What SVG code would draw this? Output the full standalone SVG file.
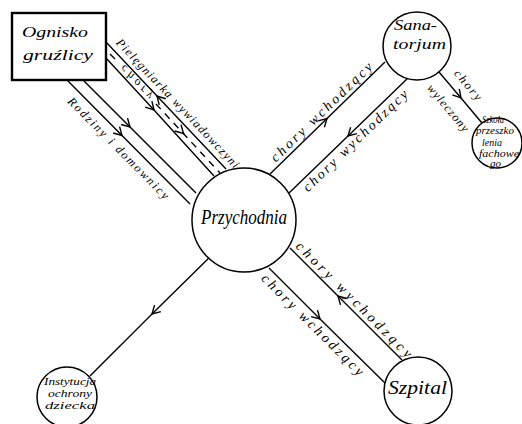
<svg xmlns="http://www.w3.org/2000/svg" width="522" height="424" viewBox="0 0 522 424">
<style>
.bg{fill:#fff}
.ln{fill:none;stroke:#000;stroke-width:1.4;marker-mid:url(#a)}
.pl{fill:none;stroke:#000;stroke-width:1.4}
.ds{fill:none;stroke:#000;stroke-width:1.4;stroke-dasharray:7 6}
.nd{fill:#fff;stroke:#000;stroke-width:1.5}
.bx{fill:#fff;stroke:#000;stroke-width:2.4}
text{font-family:"Liberation Serif","DejaVu Serif",serif;font-style:italic;fill:#000}
.lb{font-size:14px}
.sm{font-size:12px}
</style>
<defs>
<marker id="a" viewBox="-10 -6 12 12" refX="0" refY="0" markerWidth="12" markerHeight="12" markerUnits="userSpaceOnUse" orient="auto">
<path d="M-8,-4.5 L0,0 L-8,4.5" fill="none" stroke="#000" stroke-width="1.4"/>
</marker>
</defs>
<rect class="bg" x="0" y="0" width="522" height="424"/>
<g id="connectors">
<polyline class="ln" points="226,169 157,96 106,42"/>
<line class="pl" x1="110" y1="54" x2="115" y2="59"/>
<line class="ds" x1="156" y1="104" x2="220" y2="173"/>
<polyline class="ln" points="183,133 183.5,133.5 184,134"/>
<polyline class="ln" points="106,58 154,110 214,176"/>
<polyline class="ln" points="83,80 130,127 196,193"/>
<polyline class="ln" points="67,80 122,135.5 190,204"/>
<polyline class="ln" points="270,174 327,118.5 385,62"/>
<polyline class="ln" points="408,78 348,136 289,193"/>
<polyline class="ln" points="439,72 461,98 482,123"/>
<polyline class="ln" points="215,252 152,314 90,376"/>
<polyline class="ln" points="402,360 338,296 290,248"/>
<polyline class="ln" points="269,268 320,319 385,383"/>
<text class="sm" transform="translate(115.4,43.2) rotate(46.6)" textLength="173" lengthAdjust="spacing">Pielęgniarka wywiadowczyni</text>
<text class="sm" transform="translate(124.8,64.2) rotate(47.2) scale(1,-1)" textLength="42" lengthAdjust="spacing">chory</text>
<text class="sm" transform="translate(67,102) rotate(45.2)" textLength="138" lengthAdjust="spacing">Rodziny i domownicy</text>
<text class="lb" transform="translate(275.8,162.7) rotate(-44.2)" textLength="136" lengthAdjust="spacing">chory wchodzący</text>
<text class="lb" transform="translate(308,192.6) rotate(-44)" textLength="140" lengthAdjust="spacing">chory wychodzący</text>
<text class="sm" transform="translate(453.5,73.7) rotate(50)" textLength="36" lengthAdjust="spacing">chory</text>
<text class="sm" transform="translate(426.5,88.2) rotate(50)" textLength="58" lengthAdjust="spacing">wyleczony</text>
<text class="lb" transform="translate(295,247) rotate(45)" textLength="158" lengthAdjust="spacing">chory wychodzący</text>
<text class="lb" transform="translate(260.5,279.3) rotate(44.8)" textLength="138" lengthAdjust="spacing">chory wchodzący</text>
</g>
<g id="ognisko">
<rect class="bx" x="12" y="13" width="94" height="67"/>
<text x="22" y="37" font-size="15" textLength="66" lengthAdjust="spacingAndGlyphs">Ognisko</text>
<text x="23" y="60" font-size="15" textLength="70" lengthAdjust="spacingAndGlyphs">gruźlicy</text>
</g>
<g id="przychodnia">
<circle class="nd" cx="244" cy="220" r="52"/>
<text x="201" y="224" font-size="20" textLength="86" lengthAdjust="spacingAndGlyphs">Przychodnia</text>
</g>
<g id="sanatorjum">
<circle class="nd" cx="417" cy="46" r="34"/>
<text x="394" y="30" font-size="15" textLength="43" lengthAdjust="spacingAndGlyphs">Sana-</text>
<text x="393" y="49" font-size="15" textLength="53" lengthAdjust="spacingAndGlyphs">torjum</text>
</g>
<g id="szkola">
<circle class="nd" cx="497" cy="143" r="25"/>
<text x="482" y="123" font-size="10" textLength="22" lengthAdjust="spacingAndGlyphs">Szkoła</text>
<text x="476" y="134" font-size="10" textLength="38" lengthAdjust="spacingAndGlyphs">przeszko</text>
<text x="482" y="146" font-size="10" textLength="20" lengthAdjust="spacingAndGlyphs">lenia</text>
<text x="479" y="157" font-size="10" textLength="40" lengthAdjust="spacingAndGlyphs">fachowe</text>
<text x="490" y="167" font-size="10" textLength="11" lengthAdjust="spacingAndGlyphs">go</text>
</g>
<g id="instytucja">
<circle class="nd" cx="67" cy="397" r="30"/>
<text x="44" y="385" font-size="11" textLength="52" lengthAdjust="spacingAndGlyphs">Instytucja</text>
<text x="48" y="397" font-size="11" textLength="44" lengthAdjust="spacingAndGlyphs">ochrony</text>
<text x="45" y="409" font-size="11" textLength="50" lengthAdjust="spacingAndGlyphs">dziecka</text>
</g>
<g id="szpital">
<circle class="nd" cx="418" cy="391" r="34"/>
<text x="388" y="394" font-size="18" textLength="59" lengthAdjust="spacingAndGlyphs">Szpital</text>
</g>
</svg>
